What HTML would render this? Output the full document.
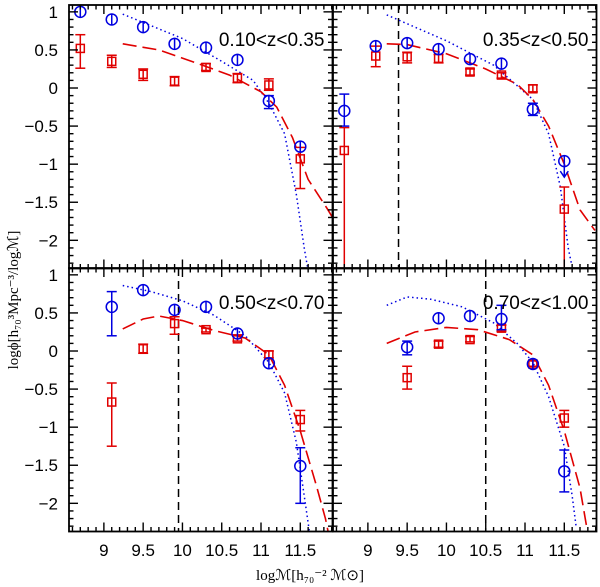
<!DOCTYPE html>
<html><head><meta charset="utf-8"><style>body{margin:0;background:#fff}svg{display:block}</style></head>
<body>
<svg id="c" width="600" height="587" xmlns="http://www.w3.org/2000/svg" font-family="Liberation Sans, DejaVu Sans, sans-serif"></svg>
<script>
const xCats=[8.7,9.1,9.5,9.9,10.3,10.7,11.1,11.5];
const panelLabels=["0.10<z<0.35","0.35<z<0.50","0.50<z<0.70","0.70<z<1.00"];
const blueVals=[[1.0,0.9,0.8,0.58,0.53,0.37,-0.17,-0.77],[-0.30,0.55,0.59,0.51,0.38,0.32,-0.28,-0.96],[null,0.58,0.80,0.54,0.58,0.23,-0.16,-1.51],[null,null,0.05,0.43,0.46,0.42,-0.17,-1.58]];
const blueErrLo=[[null,null,null,null,null,null,-0.27,-0.85],[-0.5,null,null,null,null,null,-0.36,null],[null,0.2,null,null,null,null,null,-2.0],[null,null,-0.05,null,null,0.28,null,-1.85]];
const blueErrHi=[[null,null,null,null,null,null,-0.1,null],[-0.08,null,null,null,null,null,-0.2,null],[null,0.78,null,null,null,null,null,-1.27],[null,null,0.13,null,null,0.6,null,-1.3]];
const redVals=[[0.52,0.35,0.18,0.09,0.27,0.13,0.04,-0.93],[-0.82,0.42,0.41,0.39,0.21,0.17,-0.01,-1.59],[null,-0.67,0.03,0.36,0.28,0.16,-0.05,-0.9],[null,null,-0.35,0.09,0.15,0.3,-0.17,-0.88]];
const redErrLo=[[0.26,0.27,0.1,0.03,0.23,0.07,-0.03,-1.32],[-2.4,0.28,0.33,0.33,0.17,0.13,-0.05,-2.4],[null,-1.25,-0.03,0.22,0.25,0.13,-0.09,-1.05],[null,null,-0.5,0.05,0.12,0.26,-0.2,-1.0]];
const redErrHi=[[0.7,0.43,0.25,0.15,0.32,0.19,0.12,-0.78],[-0.52,0.55,0.47,0.44,0.25,0.2,0.04,-1.3],[null,-0.42,0.09,0.45,0.3,0.2,0.0,-0.78],[null,null,-0.2,0.13,0.19,0.34,-0.13,-0.78]];
const blueUpperLimit=[[],[7],[],[]];
const dottedX=[[9.24,10.0,10.5,10.9,11.1,11.3,11.45,11.55,11.6],[9.24,10.0,10.6,11.1,11.3,11.45,11.55,11.59],[9.24,9.6,10.0,10.4,10.8,11.1,11.3,11.45,11.55,11.62],[9.24,9.5,9.8,10.2,10.6,10.9,11.1,11.3,11.5,11.6,11.65]];
const dottedY=[[0.97,0.65,0.35,0.1,-0.2,-0.6,-1.4,-2.1,-2.4],[0.96,0.62,0.3,-0.15,-0.6,-1.3,-2.1,-2.3],[0.86,0.78,0.66,0.47,0.2,-0.15,-0.55,-1.2,-1.9,-2.4],[0.6,0.71,0.68,0.58,0.37,0.1,-0.15,-0.6,-1.25,-1.9,-2.3]];
const dashX=[[9.24,9.7,10.2,10.6,11.0,11.2,11.4,11.6,11.84,11.91],[9.24,9.5,10.0,10.5,10.9,11.1,11.3,11.5,11.7,11.89],[9.24,9.5,9.7,10.0,10.4,10.8,11.1,11.3,11.5,11.7,11.82,11.86],[9.24,9.6,10.0,10.4,10.8,11.1,11.3,11.5,11.7,11.8]];
const dashY=[[0.58,0.5,0.32,0.17,-0.05,-0.25,-0.65,-1.2,-1.58,-1.7],[0.58,0.57,0.45,0.25,0.05,-0.15,-0.5,-1.0,-1.6,-1.87],[0.29,0.42,0.46,0.4,0.27,0.17,-0.05,-0.45,-1.05,-1.75,-2.2,-2.4],[0.1,0.25,0.31,0.28,0.15,-0.05,-0.45,-1.05,-1.8,-2.4]];
const vlineX=[null,9.39,9.95,10.5];
const xTicks=[9,9.5,10,10.5,11,11.5];
const yTicks=[1,0.5,0,-0.5,-1,-1.5,-2];

const NS="http://www.w3.org/2000/svg",svg=document.getElementById('c');
const XMIN=8.556,XMAX=11.91,YMIN=-2.37,YMAX=1.09;
const PL=[69,333],PT=[5,268],PW=263.5,PH=263.5;
function mk(t,a,p){const e=document.createElementNS(NS,t);for(const k in a)e.setAttribute(k,a[k]);(p||svg).appendChild(e);return e;}
function fmt(v){return (v<0?"\u2212":"")+String(Math.abs(v));}
for(let p=0;p<4;p++){
  const x0=PL[p%2],y0=PT[Math.floor(p/2)];
  const sx=v=>x0+(v-XMIN)/(XMAX-XMIN)*PW, sy=v=>y0+(YMAX-v)/(YMAX-YMIN)*PH;
  const g=mk('g',{});
  
  
  const cid='cl'+p;
  const cp=mk('clipPath',{id:cid},g);mk('rect',{x:x0,y:y0,width:PW,height:PH},cp);
  const inner=mk('g',{'clip-path':'url(#'+cid+')'},g);
  // ticks
  for(let i=86;i<=119;i++){const v=i/10,X=sx(v);if(X<x0||X>x0+PW)continue;const L=(i%5==0)?9:4.5;
    mk('line',{x1:X,y1:y0+PH,x2:X,y2:y0+PH-L,stroke:'#000','stroke-width':1.4},g);mk('line',{x1:X,y1:y0,x2:X,y2:y0+L,stroke:'#000','stroke-width':1.4},g);}
  for(let i=-23;i<=10;i++){const v=i/10,Y=sy(v);const L=(i%5==0)?9:4.5;
    mk('line',{x1:x0,y1:Y,x2:x0+L,y2:Y,stroke:'#000','stroke-width':1.4},g);mk('line',{x1:x0+PW,y1:Y,x2:x0+PW-L,y2:Y,stroke:'#000','stroke-width':1.4},g);}
  mk('rect',{x:x0,y:y0,width:PW,height:PH,fill:'none',stroke:'#000','stroke-width':1.8},g);
  if(vlineX[p]!==null){const l=mk('line',{x1:sx(vlineX[p]),y1:y0,x2:sx(vlineX[p]),y2:y0+PH,stroke:'#000','stroke-width':1.5,'stroke-dasharray':'8,5'},inner);
    }
  const dp=dottedX[p].map((v,i)=>sx(v)+','+sy(dottedY[p][i])).join(' ');
  const dl=mk('polyline',{points:dp,fill:'none',stroke:'#0000e0','stroke-width':1.5,'stroke-dasharray':'1.5,3'},inner);
  
  const rp=dashX[p].map((v,i)=>sx(v)+','+sy(dashY[p][i])).join(' ');
  const rl=mk('polyline',{points:rp,fill:'none',stroke:'#e00000','stroke-width':1.6,'stroke-dasharray':'14,6'},inner);
  
  xCats.forEach((xv,i)=>{
    const X=sx(xv);
    const rv=redVals[p][i];
    if(rv!==null){
      const lo=redErrLo[p][i],hi=redErrHi[p][i];
      mk('line',{x1:X,y1:sy(lo),x2:X,y2:sy(hi),stroke:'#e00000','stroke-width':1.5},inner);
      mk('line',{x1:X-5,y1:sy(lo),x2:X+5,y2:sy(lo),stroke:'#e00000','stroke-width':1.5},inner);
      mk('line',{x1:X-5,y1:sy(hi),x2:X+5,y2:sy(hi),stroke:'#e00000','stroke-width':1.5},inner);
      const r=mk('rect',{x:X-4,y:sy(rv)-4,width:8,height:8,fill:'none',stroke:'#e00000','stroke-width':1.5},inner);
      
    }
    const bv=blueVals[p][i];
    if(bv!==null){
      const lo=blueErrLo[p][i],hi=blueErrHi[p][i];
      if(lo!==null&&hi!==null){
        mk('line',{x1:X,y1:sy(lo),x2:X,y2:sy(hi),stroke:'#0000e0','stroke-width':1.5},inner);
        mk('line',{x1:X-5,y1:sy(lo),x2:X+5,y2:sy(lo),stroke:'#0000e0','stroke-width':1.5},inner);
        mk('line',{x1:X-5,y1:sy(hi),x2:X+5,y2:sy(hi),stroke:'#0000e0','stroke-width':1.5},inner);
      } else mk('line',{x1:X,y1:sy(bv)-6,x2:X,y2:sy(bv)+6,stroke:'#0000e0','stroke-width':1.5},inner);
      if(blueUpperLimit[p].includes(i)){const Y=sy(bv);
        mk('line',{x1:X,y1:Y,x2:X,y2:Y+16,stroke:'#0000e0','stroke-width':1.5},inner);
        mk('polyline',{points:(X-4)+','+(Y+10)+' '+X+','+(Y+16)+' '+(X+4)+','+(Y+10),fill:'none',stroke:'#0000e0','stroke-width':1.5},inner);}
      const c=mk('ellipse',{cx:X,cy:sy(bv),rx:5.5,ry:5.5,fill:'none',stroke:'#0000e0','stroke-width':1.5},inner);
      
    }
  });
  const t=mk('text',{x:x0+PW-8,y:y0+41,'font-size':19,'text-anchor':'end',fill:'#000'},g);
  t.textContent=panelLabels[p];
  
  if(p%2==0){yTicks.forEach(v=>{const tt=mk('text',{x:58,y:sy(v)+6,'font-size':17,'text-anchor':'end'},g);tt.textContent=fmt(v);
    });}
  if(p>=2){xTicks.forEach(v=>{const tt=mk('text',{x:sx(v),y:556,'font-size':17,'text-anchor':'middle'},g);tt.textContent=String(v);
    });}
}
const xt=mk('text',{x:310,y:580,'font-size':15,'text-anchor':'middle','font-family':'Liberation Serif, serif'});
xt.textContent='log\u2133[h\u2087\u2080\u207B\u00B2 \u2133\u2299]';

const yt=mk('text',{x:0,y:0,'font-size':15,'text-anchor':'middle','font-family':'Liberation Serif, serif',transform:'translate(18,300) rotate(-90)'});
yt.textContent='log\u03D5[h\u2087\u2080\u00B3Mpc\u207B\u00B3/log\u2133]';

</script>
</body></html>
